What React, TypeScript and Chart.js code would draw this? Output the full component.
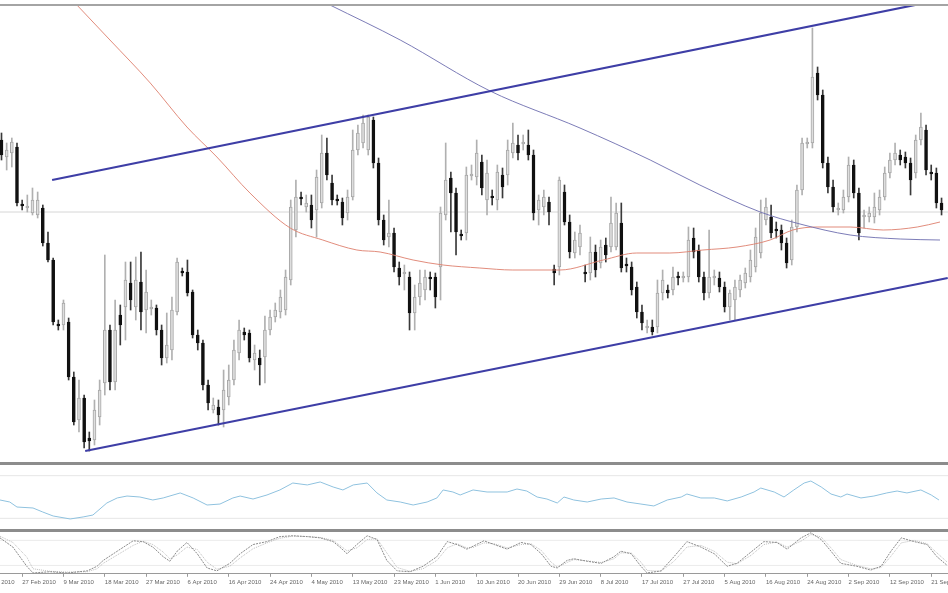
import { useEffect, useRef } from "react";
import { Chart, registerables } from "chart.js";
Chart.register(...registerables);

// Bar-number range shown on the x axis (candle i sits at x = i)
const X_MIN = -0.29;
const X_MAX = 183.25;

// Daily candles (index points)
const candleOpen = [
  360,343,347,353,296,292,287,285,292,257,
  240,176,175,178,123,80,102,62,60,83,
  117,170,118,185,193,217,193,218,190,191,
  192,170,142,150,188,229,228,208,165,157,
  115,90,93,90,103,120,147,168,167,140,
  142,143,170,183,188,190,220,270,303,293,
  295,290,297,347,317,301,298,287,303,350,
  357,350,380,337,280,263,267,232,226,223,
  187,203,210,223,223,233,285,322,307,266,
  267,324,323,338,300,304,300,325,325,347,
  355,356,355,345,290,293,298,231,233,308,
  278,247,253,228,227,248,237,255,253,253,
  277,236,233,213,188,172,173,173,207,210,
  210,224,222,223,262,250,223,207,222,222,
  213,193,200,210,217,223,233,247,280,283,
  271,270,257,240,273,310,356,357,427,405,
  337,313,290,290,303,335,307,283,283,283,
  290,303,327,340,345,343,337,327,360,370,
  328,327,297,
];
const candleHigh = [
  367,357,362,357,300,305,312,308,295,268,
  242,180,200,182,128,120,105,68,100,120,
  245,175,200,195,238,238,243,248,230,200,
  195,175,187,203,242,232,240,210,170,160,
  120,102,100,130,135,160,180,172,170,155,
  150,184,190,197,210,230,300,320,308,305,
  305,330,365,362,325,305,302,310,370,375,
  385,385,383,342,285,300,272,238,235,228,
  215,230,230,228,227,293,357,328,312,270,
  333,335,360,345,340,310,335,332,360,377,
  365,365,370,350,305,310,303,235,323,315,
  285,268,275,235,263,255,260,262,303,297,
  297,242,238,218,195,180,180,220,230,215,
  233,228,228,273,272,255,228,270,230,228,
  218,210,220,225,232,250,272,300,302,295,
  278,275,262,280,315,362,362,472,433,410,
  343,320,297,310,343,340,312,290,293,307,
  310,333,347,357,350,348,342,365,387,375,
  335,332,302,
];
const candleLow = [
  340,330,333,294,290,288,285,282,254,238,
  175,170,170,120,75,68,52,49,55,75,
  105,110,110,155,160,190,180,170,167,185,
  165,135,137,140,185,224,204,162,150,110,
  90,87,75,73,95,115,140,160,138,130,
  115,117,165,178,182,185,215,263,295,288,
  272,263,292,320,295,295,275,280,300,345,
  352,345,332,275,255,253,228,215,210,170,
  170,195,200,210,192,200,280,268,245,260,
  260,320,315,305,285,295,290,302,315,342,
  340,350,340,280,275,285,275,215,225,275,
  242,242,245,218,220,223,232,238,248,250,
  228,228,205,182,170,167,165,167,200,202,
  205,215,218,218,242,218,200,202,215,208,
  188,180,180,203,212,218,228,242,275,262,
  262,250,232,235,268,305,352,352,400,332,
  307,288,285,287,298,302,260,272,278,277,
  285,300,322,335,335,332,305,322,355,325,
  320,292,285,
];
const candleClose = [
  345,350,358,297,294,294,300,300,257,240,
  178,174,197,123,78,102,58,59,90,110,
  170,118,170,175,220,200,220,188,208,193,
  170,142,155,190,238,227,207,165,157,115,
  97,95,85,110,120,150,170,165,142,147,
  135,170,183,190,203,223,293,303,301,297,
  280,323,347,325,300,299,282,303,350,367,
  377,383,337,280,260,267,233,223,228,187,
  203,217,223,221,203,287,320,307,268,264,
  325,326,347,312,327,302,328,313,350,357,
  347,358,345,287,300,303,288,227,320,278,
  248,260,267,226,248,230,253,245,277,287,
  232,234,210,188,177,174,168,207,220,207,
  223,222,224,260,248,223,207,223,224,213,
  193,207,213,220,227,240,263,287,293,267,
  269,257,237,273,310,357,358,423,405,337,
  313,293,292,303,335,307,267,285,287,293,
  303,327,340,347,340,337,320,360,373,330,
  326,297,290,
];

// Horizontal reference level
const refLevel = 288;

// Channel trendlines: [bar index, price]
const upperTrendIdx = [9.8, 176.9];
const upperTrendVal = [320, 495];
const lowerTrendIdx = [16.2, 183.2];
const lowerTrendVal = [49, 222];

// Slow moving averages sampled along the chart
const redMaIdx = [14.6, 21.0, 28.8, 35.9, 41.7, 48.1, 55.9, 62.2, 68.8, 73.3, 79.7, 85.5, 92.6, 99.0, 108.1, 116.5, 123.0, 129.4, 135.8, 142.4, 148.8, 153.2, 157.9, 164.3, 170.7, 177.3, 181.7];
const redMaVal = [495, 460, 417, 373, 343, 307, 272, 260, 250, 248, 240, 235, 232, 230, 230, 240, 247, 247, 250, 253, 260, 270, 273, 273, 270, 273, 278];
const blueMaIdx = [63.6, 77.2, 94.6, 112.0, 125.6, 135.2, 146.9, 154.6, 164.3, 174.0, 181.7];
const blueMaVal = [495, 460, 409, 372, 340, 315, 288, 276, 265, 261, 260];

// Oscillator pane 1 (RSI-like)
const rsiIdx = [-0.3,1.6,3.0,6.1,8.0,10.0,13.3,15.8,17.7,20.4,22.4,24.3,26.8,29.3,31.3,34.6,37.1,39.8,42.3,44.8,46.2,48.7,51.4,53.9,56.4,59.2,61.7,64.2,66.1,68.1,70.8,72.7,74.6,77.2,79.7,82.4,84.3,85.5,87.4,88.8,91.3,94.0,97.9,99.8,101.7,103.7,105.6,107.6,108.9,110.8,113.4,116.1,118.6,121.1,123.8,126.3,128.9,131.6,132.7,135.4,138.0,140.5,143.2,145.7,147.0,149.6,151.5,153.4,155.4,156.7,158.7,160.6,162.5,163.7,166.4,168.9,171.4,173.4,175.3,178.0,180.0,181.5];
const rsiVal = [47.2,45.3,40.6,39.7,35.9,32.2,29.4,31.3,33.1,44.4,49.1,50.9,50.0,47.2,49.1,53.8,49.1,42.5,43.4,49.1,50.9,48.1,51.9,56.6,63.1,61.3,64.1,59.4,56.6,61.3,63.1,53.8,47.2,45.3,42.5,45.3,49.1,56.6,54.7,51.9,56.6,54.7,54.7,57.5,55.6,50.0,48.1,44.4,50.0,47.2,45.3,48.1,49.1,45.3,43.4,41.6,47.2,50.0,52.8,49.1,49.1,46.3,50.0,54.7,58.4,54.7,50.0,56.6,63.1,65.0,59.4,52.8,50.0,52.8,49.1,50.9,53.8,55.6,53.8,56.6,51.9,47.2];
const rsiLevels = [70, 30];

// Oscillator pane 2 (stochastic)
const stochIdx = [-0.3,2.2,4.9,6.1,9.4,12.7,16.6,18.5,19.7,22.4,25.5,27.4,29.3,31.3,32.6,34.0,35.9,37.9,39.8,41.7,44.2,46.2,48.7,51.4,53.9,56.4,59.2,61.7,64.2,65.5,66.9,68.8,70.8,72.7,74.6,76.6,79.1,81.6,84.3,86.3,88.2,90.1,91.3,93.4,95.4,97.9,100.6,102.5,104.5,106.4,107.6,109.5,110.8,113.4,116.1,118.6,119.9,121.9,123.8,125.0,127.7,130.2,132.7,135.4,138.0,140.5,142.4,145.1,147.6,150.1,152.1,154.8,156.7,158.7,160.6,162.5,165.6,168.3,170.3,172.2,174.2,176.7,179.2,181.1,183.1];
const stochMain = [86,64,18,2,5,2,7,18,32,54,79,77,64,41,30,54,75,48,14,7,25,48,70,77,89,91,89,86,77,64,48,70,91,82,32,7,5,18,41,77,70,59,66,79,70,59,75,70,48,18,14,32,36,30,25,41,54,48,18,2,7,41,77,64,48,18,25,52,77,75,59,86,98,82,54,25,18,9,18,54,86,77,70,41,20];
const stochSignal = [90,75,40,12,6,4,5,12,25,45,68,78,70,52,36,45,64,58,28,11,18,38,60,74,85,90,89,87,80,68,55,62,82,84,50,15,6,12,32,62,72,62,63,74,72,62,70,72,56,28,16,27,34,31,27,36,50,50,28,8,6,30,64,68,54,28,24,44,70,76,64,78,94,88,62,34,20,12,15,42,74,80,72,50,28];
const stochLevels = [80, 20];

// Date axis
const dateTickIdx = [-4, 4, 12, 20, 28, 36, 44, 52, 60, 68, 76, 84, 92, 100, 108, 116, 124, 132, 140, 148, 156, 164, 172, 180];
const dateTickLabels = ["18 Feb 2010", "27 Feb 2010", "9 Mar 2010", "18 Mar 2010", "27 Mar 2010", "6 Apr 2010", "16 Apr 2010", "24 Apr 2010", "4 May 2010", "13 May 2010", "23 May 2010", "1 Jun 2010", "10 Jun 2010", "20 Jun 2010", "29 Jun 2010", "8 Jul 2010", "17 Jul 2010", "27 Jul 2010", "5 Aug 2010", "16 Aug 2010", "24 Aug 2010", "2 Sep 2010", "12 Sep 2010", "21 Sep 2010"];

const pts = (xs: number[], ys: number[]) =>
  xs.slice(0, Math.min(xs.length, ys.length)).map((x, i) => ({ x, y: ys[i] }));
const hLine = (v: number) => [{ x: X_MIN - 2, y: v }, { x: X_MAX + 2, y: v }];

const sepPlugin = (id: string, lines: { at: "top" | "bottom"; off: number; w: number; c: string }[]) => ({
  id,
  afterDraw(chart: any) {
    const { ctx, chartArea } = chart;
    ctx.save();
    for (const l of lines) {
      const y = (l.at === "top" ? chartArea.top : chartArea.bottom) + l.off;
      ctx.strokeStyle = l.c;
      ctx.lineWidth = l.w;
      ctx.beginPath();
      ctx.moveTo(0, y);
      ctx.lineTo(chart.width, y);
      ctx.stroke();
    }
    ctx.restore();
  },
});

const hiddenX = { type: "linear" as const, min: X_MIN, max: X_MAX, bounds: "data" as const, offset: false, display: false };

export default function App() {
  const mainRef = useRef<HTMLCanvasElement>(null);
  const rsiRef = useRef<HTMLCanvasElement>(null);
  const stoRef = useRef<HTMLCanvasElement>(null);

  useEffect(() => {
    const charts: Chart[] = [];
    const n = Math.min(candleOpen.length, candleHigh.length, candleLow.length, candleClose.length);
    const up = Array.from({ length: n }, (_, i) => candleClose[i] >= candleOpen[i]);
    const wickData = Array.from({ length: n }, (_, i) => ({ x: i, y: [candleLow[i], candleHigh[i]] }));
    const bodyData = Array.from({ length: n }, (_, i) => ({ x: i, y: [candleOpen[i], candleClose[i]] }));

    const lineStyle = (color: string, width: number) => ({
      type: "line" as const,
      borderColor: color,
      borderWidth: width,
      pointRadius: 0,
      fill: false,
    });

    if (mainRef.current) {
      charts.push(
        new Chart(mainRef.current, {
          type: "bar",
          data: {
            datasets: [
              { ...lineStyle("#3e3ea6", 2.2), data: pts(upperTrendIdx, upperTrendVal) } as any,
              { ...lineStyle("#3e3ea6", 2.2), data: pts(lowerTrendIdx, lowerTrendVal) } as any,
              { ...lineStyle("rgba(110,110,175,0.9)", 1), data: pts(blueMaIdx, blueMaVal), cubicInterpolationMode: "monotone" } as any,
              { ...lineStyle("rgba(222,128,110,0.9)", 1), data: pts(redMaIdx, redMaVal), cubicInterpolationMode: "monotone" } as any,
              {
                type: "bar",
                data: bodyData,
                backgroundColor: up.map((u) => (u ? "#dedede" : "#111111")),
                borderColor: up.map((u) => (u ? "#a6a6a6" : "#111111")),
                borderWidth: 1,
                borderSkipped: false,
                barThickness: 3,
                minBarLength: 1,
                grouped: false,
              } as any,
              {
                type: "bar",
                data: wickData,
                backgroundColor: up.map((u) => (u ? "#b0b0b0" : "#3a3a3a")),
                barThickness: 1,
                grouped: false,
              } as any,
              { ...lineStyle("#d6d6d6", 1), data: hLine(refLevel) } as any,
            ],
          },
          options: {
            responsive: false,
            animation: false,
            events: [],
            layout: { padding: { top: 5, bottom: 3, left: 0, right: 0 } },
            plugins: { legend: { display: false }, tooltip: { enabled: false } },
            scales: {
              x: hiddenX as any,
              y: { type: "linear", min: 38, max: 495, display: false },
            },
          },
          plugins: [
            sepPlugin("mainSep", [
              { at: "top", off: 0, w: 2, c: "#a4a4a4" },
              { at: "bottom", off: 1.5, w: 3, c: "#8c8c8c" },
            ]),
          ],
        })
      );
    }

    if (rsiRef.current) {
      charts.push(
        new Chart(rsiRef.current, {
          type: "line",
          data: {
            datasets: [
              { ...lineStyle("#8fc2df", 1), data: pts(rsiIdx, rsiVal), tension: 0 } as any,
              ...rsiLevels.map((v) => ({ ...lineStyle("#e6e6e6", 1), data: hLine(v) } as any)),
            ],
          },
          options: {
            responsive: false,
            animation: false,
            events: [],
            layout: { padding: { top: 0, bottom: 3, left: 0, right: 0 } },
            plugins: { legend: { display: false }, tooltip: { enabled: false } },
            scales: {
              x: hiddenX as any,
              y: { type: "linear", min: 20, max: 80, display: false },
            },
          },
          plugins: [sepPlugin("rsiSep", [{ at: "bottom", off: 1.5, w: 3, c: "#8c8c8c" }])],
        })
      );
    }

    if (stoRef.current) {
      charts.push(
        new Chart(stoRef.current, {
          type: "line",
          data: {
            datasets: [
              { ...lineStyle("#8a8a8a", 1), borderDash: [2, 1], data: pts(stochIdx, stochMain) } as any,
              { ...lineStyle("#bdbdbd", 1), borderDash: [1, 1], data: pts(stochIdx, stochSignal) } as any,
              ...stochLevels.map((v) => ({ ...lineStyle("#ebebeb", 1), data: hLine(v) } as any)),
            ],
          },
          options: {
            responsive: false,
            animation: false,
            events: [],
            layout: { padding: { top: 0, bottom: 5, left: 0, right: 0 } },
            plugins: { legend: { display: false }, tooltip: { enabled: false } },
            scales: {
              x: {
                type: "linear",
                min: X_MIN,
                max: X_MAX,
                bounds: "data",
                offset: false,
                afterBuildTicks: (scale: any) => {
                  scale.ticks = dateTickIdx.map((v) => ({ value: v }));
                },
                afterFit: (scale: any) => {
                  scale.paddingLeft = 0;
                  scale.paddingRight = 0;
                },
                ticks: {
                  autoSkip: false,
                  maxRotation: 0,
                  minRotation: 0,
                  align: "start",
                  padding: 2,
                  color: "#666",
                  font: { size: 6, family: "'Liberation Sans', Arial, sans-serif" },
                  callback: (value: any) => {
                    const k = dateTickIdx.indexOf(Number(value));
                    return k >= 0 ? dateTickLabels[k] : "";
                  },
                },
                grid: { drawOnChartArea: false, tickLength: 3, color: "#9a9a9a" },
                border: { display: true, color: "#9a9a9a", width: 1 },
              } as any,
              y: { type: "linear", min: 0, max: 100, display: false },
            },
          },
        })
      );
    }

    return () => charts.forEach((c) => c.destroy());
  }, []);

  return (
    <div style={{ position: "fixed", left: 0, top: 0, width: 948, height: 593, background: "#ffffff", overflow: "hidden" }}>
      <canvas ref={mainRef} width={948} height={465} style={{ position: "absolute", left: 0, top: 0, width: 948, height: 465 }} />
      <canvas ref={rsiRef} width={948} height={67} style={{ position: "absolute", left: 0, top: 465, width: 948, height: 67 }} />
      <canvas ref={stoRef} width={948} height={61} style={{ position: "absolute", left: 0, top: 532, width: 948, height: 61 }} />
    </div>
  );
}
